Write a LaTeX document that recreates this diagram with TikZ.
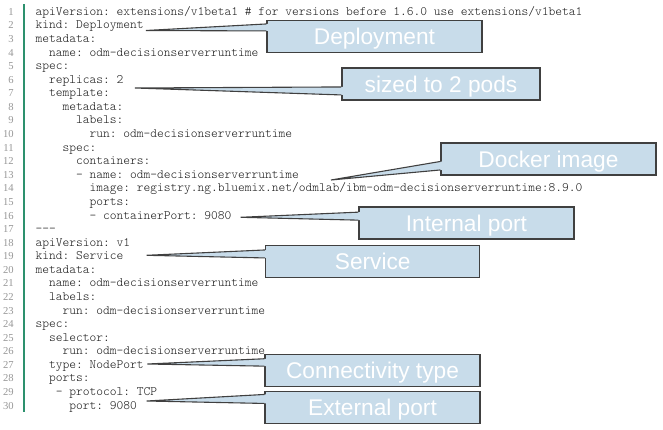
\documentclass[tikz,border=0pt]{standalone}
\usepackage{fontspec}
\usetikzlibrary{calc}
\newfontfamily\calfont{Liberation Sans}
\newfontfamily\numserif{Liberation Serif}
\setmonofont{Latin Modern Mono Light}
\definecolor{cfill}{RGB}{200,220,234}
\definecolor{cborder}{RGB}{64,64,64}
\definecolor{numgray}{RGB}{150,150,150}
\definecolor{codetext}{RGB}{25,25,25}
\definecolor{barcol}{RGB}{45,145,110}
\newcommand{\codefont}{\fontsize{12.857}{14}\selectfont\ttfamily\frenchspacing}
\newcommand{\numfont}{\fontsize{10.6}{12}\selectfont\numserif}
\newcommand{\calsize}{\fontsize{22.7}{24}\selectfont\calfont}
\tikzset{
  codeline/.style={anchor=base west, inner sep=0pt, font=\codefont, text=codetext},
  lnum/.style={anchor=base east, inner sep=0pt, font=\numfont, text=numgray},
  cbox/.style={draw=cborder, fill=cfill, line width=1.1pt, text=white, font=\calsize,
    inner sep=0pt, minimum height=32pt, text height=16.25pt, text depth=0pt},
  cedge/.style={draw=cborder, line width=1.1pt, line join=miter},
}
\def\cw{6.75}
\def\lx{35.5}
\def\ly{15.3}
\def\ls{13.58}
\begin{document}
\begin{tikzpicture}[x=1pt,y=-1pt]
\useasboundingbox (0,0) rectangle (663,430);
% green bar
\fill[barcol] (23,4.5) rectangle (25.2,411.5);
% line numbers
\foreach \k in {1,...,30}{
  \node[lnum] (n\k) at (13.8,{\ly+(\k-1)*\ls}) {\k};
}
% code
\node[codeline] (l1) at ({\lx+0*\cw},{\ly+0*\ls}) {apiVersion: extensions/v1beta1 \# for versions before 1.6.0 use extensions/v1beta1};
\node[codeline] (l2) at ({\lx+0*\cw},{\ly+1*\ls}) {kind: Deployment};
\node[codeline] (l3) at ({\lx+0*\cw},{\ly+2*\ls}) {metadata:};
\node[codeline] (l4) at ({\lx+2*\cw},{\ly+3*\ls}) {name: odm-decisionserverruntime};
\node[codeline] (l5) at ({\lx+0*\cw},{\ly+4*\ls}) {spec:};
\node[codeline] (l6) at ({\lx+2*\cw},{\ly+5*\ls}) {replicas: 2};
\node[codeline] (l7) at ({\lx+2*\cw},{\ly+6*\ls}) {template:};
\node[codeline] (l8) at ({\lx+4*\cw},{\ly+7*\ls}) {metadata:};
\node[codeline] (l9) at ({\lx+6*\cw},{\ly+8*\ls}) {labels:};
\node[codeline] (l10) at ({\lx+8*\cw},{\ly+9*\ls}) {run: odm-decisionserverruntime};
\node[codeline] (l11) at ({\lx+4*\cw},{\ly+10*\ls}) {spec:};
\node[codeline] (l12) at ({\lx+6*\cw},{\ly+11*\ls}) {containers:};
\node[codeline] (l13) at ({\lx+6*\cw},{\ly+12*\ls}) {- name: odm-decisionserverruntime};
\node[codeline] (l14) at ({\lx+8*\cw},{\ly+13*\ls}) {image: registry.ng.bluemix.net/odmlab/ibm-odm-decisionserverruntime:8.9.0};
\node[codeline] (l15) at ({\lx+8*\cw},{\ly+14*\ls}) {ports:};
\node[codeline] (l16) at ({\lx+8*\cw},{\ly+15*\ls}) {- containerPort: 9080};
\node[codeline] (l17) at ({\lx+0*\cw},{\ly+16*\ls}) {-{}-{}-};
\node[codeline] (l18) at ({\lx+0*\cw},{\ly+17*\ls}) {apiVersion: v1};
\node[codeline] (l19) at ({\lx+0*\cw},{\ly+18*\ls}) {kind: Service};
\node[codeline] (l20) at ({\lx+0*\cw},{\ly+19*\ls}) {metadata:};
\node[codeline] (l21) at ({\lx+2*\cw},{\ly+20*\ls}) {name: odm-decisionserverruntime};
\node[codeline] (l22) at ({\lx+2*\cw},{\ly+21*\ls}) {labels:};
\node[codeline] (l23) at ({\lx+4*\cw},{\ly+22*\ls}) {run: odm-decisionserverruntime};
\node[codeline] (l24) at ({\lx+0*\cw},{\ly+23*\ls}) {spec:};
\node[codeline] (l25) at ({\lx+2*\cw},{\ly+24*\ls}) {selector:};
\node[codeline] (l26) at ({\lx+4*\cw},{\ly+25*\ls}) {run: odm-decisionserverruntime};
\node[codeline] (l27) at ({\lx+2*\cw},{\ly+26*\ls}) {type: NodePort};
\node[codeline] (l28) at ({\lx+2*\cw},{\ly+27*\ls}) {ports:};
\node[codeline] (l29) at ({\lx+3*\cw},{\ly+28*\ls}) {- protocol: TCP};
\node[codeline] (l30) at ({\lx+5*\cw},{\ly+29*\ls}) {port: 9080};
% callouts
\node[cbox, minimum width=215pt] (dep) at (374.5,36.5) {Deployment};
\node[cbox, minimum width=198pt] (siz) at (441,84) {sized to 2 pods};
\node[cbox, minimum width=215pt] (dock) at (548.5,159) {Docker image};
\node[cbox, minimum width=215pt] (intp) at (466.5,223) {Internal port};
\node[cbox, minimum width=214pt] (serv) at (372.7,261.5) {Service};
\node[cbox, minimum width=215pt] (conn) at (372.5,370.5) {Connectivity type};
\node[cbox, minimum width=215pt] (extp) at (372.5,407.5) {External port};
\coordinate (depTip) at (146,30.5);
\coordinate (sizTip) at (135,88);
\coordinate (dockTip) at (331,180);
\coordinate (intpTip) at (240.7,217.3);
\coordinate (servTip) at (146.7,255.3);
\coordinate (connTip) at (147.3,364);
\coordinate (extpTip) at (146.7,401);
\foreach \b/\a/\c in {dep/4/11, siz/19.5/27.5, dock/19/27.5, intp/5.7/13.7, serv/5/13, conn/4.8/12.2, extp/3.5/12.5}{
  \fill[cfill] (\b Tip) -- ([shift={(1.6,\a)}]\b.north west) -- ([shift={(1.6,\c)}]\b.north west) -- cycle;
  \draw[cedge] ([shift={(0,\a)}]\b.north west) -- (\b Tip) -- ([shift={(0,\c)}]\b.north west);
}
\end{tikzpicture}
\end{document}
